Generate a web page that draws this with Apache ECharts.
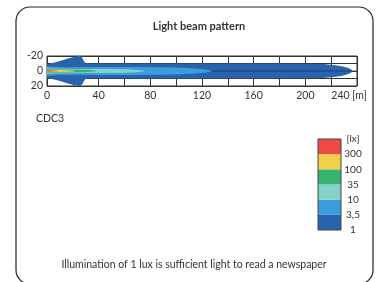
<!DOCTYPE html>
<html>
<head>
<meta charset="utf-8">
<script src="https://cdn.jsdelivr.net/npm/echarts@6/dist/echarts.min.js"></script>
<style>
  html, body { margin: 0; padding: 0; background: #fff; }
  #chart { width: 377px; height: 282px; }
</style>
</head>
<body>
<div id="chart"></div>
<script>
// beam contours: [distance in m, half width in m]
const lux1 = [[0, 8.9], [8, 12.4], [17, 16.9], [23, 19.6], [25.5, 20], [27, 18.5], [28.5, 13.5], [30, 10], [60, 10], [120, 10], [180, 10], [204, 9.8], [214, 9.2], [222, 8], [228, 6.5], [232, 4.7], [235, 2.6], [237, 0]]
const lux3_5 = [[0, 6.5], [5, 5.6], [12, 5], [40, 5.3], [70, 5.2], [90, 4.9], [105, 4.2], [115, 3.3], [122, 2.2], [126, 1.1], [128, 0]]
const lux10 = [[0, 3.6], [10, 3.1], [30, 2.8], [50, 2.6], [62, 2.2], [70, 1.5], [74, 0.7], [76, 0]]
const lux35 = [[0, 2.4], [10, 2.1], [25, 1.8], [32, 1.4], [37, 0.7], [39, 0]]
const lux100 = [[0, 1.5], [8, 1.3], [16, 1.1], [20, 0.6], [22, 0]]
const lux300 = [[0, 1], [5, 0.8], [8, 0.4], [9, 0]]
const centerLine = [[0, 0], [240, 0]]

const xMax = 240
const yExtent = 20
const luxLabels = ['1', '3,5', '10', '35', '100', '300', '[lx]']
const legendCells = [1, 1, 1, 1, 1, 1]

const colors = ['#2962ad', '#3b9edb', '#83d1c8', '#36b46e', '#f3d04b', '#ee4b45']
const font = 'Lato, "Noto Sans", sans-serif'

function beam(points, color, z) {
  return {
    type: 'custom',
    coordinateSystem: 'cartesian2d',
    xAxisIndex: 0,
    yAxisIndex: 0,
    z: z,
    silent: true,
    data: points,
    renderItem: function (params, api) {
      if (params.dataIndex !== 0) return null
      const top = points.map(p => api.coord([p[0], -p[1]]))
      const bottom = points.slice().reverse().map(p => api.coord([p[0], p[1]]))
      return {
        type: 'polygon',
        shape: { points: top.concat(bottom) },
        style: { fill: color }
      }
    }
  }
}

const chart = echarts.init(document.getElementById('chart'))
chart.setOption({
  animation: false,
  title: {
    text: 'Light beam pattern',
    left: 194,
    textAlign: 'center',
    top: 16,
    textStyle: { fontSize: 11, fontWeight: 'bold', fontFamily: font, color: '#333' }
  },
  grid: [
    { left: 47, top: 56, width: 310, height: 30, show: true, borderColor: '#333', borderWidth: 1 },
    { left: 318, top: 139, width: 23, height: 91, show: true, borderColor: '#444', borderWidth: 1, z: 10 }
  ],
  xAxis: [
    {
      type: 'value', gridIndex: 0, min: 0, max: xMax, interval: 20,
      axisLine: { show: false }, axisTick: { show: false },
      splitLine: { show: true, lineStyle: { color: '#333', width: 1 } },
      axisLabel: {
        margin: 4, fontSize: 10.5, fontFamily: font, color: '#333',
        formatter: function (v) {
          if (v === xMax) return '{last|' + v + ' [m]}'
          return v % 40 === 0 ? String(v) : ''
        },
        rich: { last: { fontSize: 10.5, fontFamily: font, color: '#333', padding: [0, 16, 0, 0] } }
      }
    },
    { type: 'category', gridIndex: 1, data: ['lx'], show: false }
  ],
  yAxis: [
    {
      type: 'value', gridIndex: 0, min: -yExtent, max: yExtent, interval: 10, inverse: true,
      axisLine: { show: false }, axisTick: { show: false },
      splitLine: { show: true, lineStyle: { color: '#333', width: 1 } },
      axisLabel: {
        margin: 4, fontSize: 10.5, fontFamily: font, color: '#333',
        formatter: function (v) { return v % 20 === 0 ? String(v) : '' }
      }
    },
    {
      type: 'value', gridIndex: 1, min: 0, max: 6, interval: 1, position: 'right',
      axisLine: { show: false }, axisTick: { show: false }, splitLine: { show: false },
      axisLabel: {
        margin: 12, align: 'center', fontSize: 10, fontFamily: font, color: '#333',
        formatter: function (v) { return luxLabels[v] }
      }
    }
  ],
  series: [
    beam(lux1, colors[0], 2),
    {
      type: 'line', xAxisIndex: 0, yAxisIndex: 0, z: 3, silent: true,
      data: centerLine, symbol: 'none',
      lineStyle: { color: '#1b3a6e', width: 0.8 }
    },
    beam(lux3_5, colors[1], 4),
    beam(lux10, colors[2], 5),
    beam(lux35, colors[3], 6),
    beam(lux100, colors[4], 7),
    beam(lux300, colors[5], 8)
  ].concat(legendCells.map((v, i) => ({
    type: 'bar', xAxisIndex: 1, yAxisIndex: 1, stack: 'lx', silent: true,
    barWidth: '100%', data: [v],
    itemStyle: { color: colors[i] }
  }))),
  graphic: [
    {
      type: 'rect', silent: true,
      shape: { x: 16, y: 7, width: 357, height: 277, r: 14 },
      style: { fill: 'none', stroke: '#222', lineWidth: 1.2 }
    },
    {
      type: 'text', left: 36, top: 113,
      style: { text: 'CDC3', fontSize: 10.5, fontFamily: font, fill: '#333' }
    },
    {
      type: 'text', x: 194, y: 265,
      style: {
        text: 'Illumination of 1 lux is sufficient light to read a newspaper',
        fontSize: 10.5, fontFamily: font, fill: '#333', align: 'center', verticalAlign: 'middle'
      }
    }
  ]
})
</script>
</body>
</html>
